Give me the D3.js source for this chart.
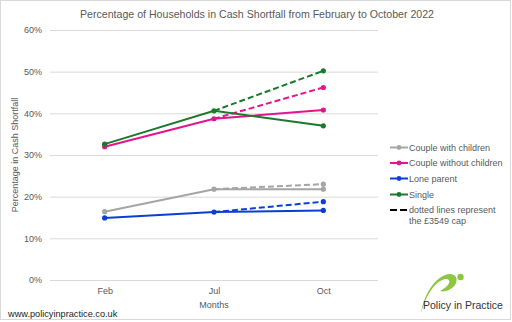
<!DOCTYPE html>
<html><head><meta charset="utf-8">
<script src="https://cdn.jsdelivr.net/npm/d3@7"></script>
<style>body{margin:0;background:#fff}svg{display:block;font-family:"Liberation Sans",Arial,sans-serif}</style>
</head><body><svg id="c" width="512" height="322"></svg>
<script>
const months = ["Feb", "Jul", "Oct"];
const yTicks = [0, 10, 20, 30, 40, 50, 60];
const seriesNames = ["Couple with children", "Couple without children", "Lone parent", "Single"];
const seriesColors = ["#a5a5a5", "#e2148f", "#0a3fd4", "#197a2c"];
// solid lines: Feb, Jul, Oct
const coupleWithChildren = [16.4, 21.8, 21.8];
const coupleWithoutChildren = [32.0, 38.7, 40.8];
const loneParent = [14.9, 16.3, 16.7];
const single = [32.6, 40.6, 37.0];
// dotted lines (the £3549 cap): Jul, Oct
const capMonths = ["Jul", "Oct"];
const coupleWithChildrenCap = [21.8, 23.0];
const coupleWithoutChildrenCap = [38.7, 46.2];
const loneParentCap = [16.3, 18.8];
const singleCap = [40.6, 50.2];
const solidSeries = [coupleWithChildren, coupleWithoutChildren, loneParent, single];
const capSeries = [coupleWithChildrenCap, coupleWithoutChildrenCap, loneParentCap, singleCap];
const title = "Percentage of Households in Cash Shortfall from February to October 2022";
const yTitle = "Percentage in Cash Shortfall";
const xTitle = "Months";
const capLabel = ["dotted lines represent", "the £3549 cap"];

const svg = d3.select("#c");
const txt = "#595959";
svg.append("rect").attr("x",0.5).attr("y",0.5).attr("width",510).attr("height",319)
  .attr("fill","#fff").attr("stroke","#d9d9d9");

const x = d3.scalePoint().domain(months).range([50, 378]).padding(0.5);
const y = d3.scaleLinear().domain([0, 60]).range([280, 30]);

// gridlines
svg.append("g").selectAll("line").data(yTicks).join("line")
  .attr("x1",50).attr("x2",378).attr("y1",d=>y(d)+0.5).attr("y2",d=>y(d)+0.5)
  .attr("stroke","#d9d9d9").attr("stroke-width",1);

// y axis labels
const ya = svg.append("g").attr("transform","translate(42,0)")
  .call(d3.axisLeft(y).tickValues(yTicks).tickFormat(d=>d+"%").tickSize(0).tickPadding(0));
ya.select(".domain").remove();
ya.selectAll("text").attr("fill",txt).attr("font-size",9).attr("font-family","Liberation Sans, Arial, sans-serif");

// x axis labels
const xa = svg.append("g").attr("transform","translate(0,288)")
  .call(d3.axisBottom(x).tickSize(0).tickPadding(0));
xa.select(".domain").remove();
xa.selectAll("text").attr("fill",txt).attr("font-size",9).attr("font-family","Liberation Sans, Arial, sans-serif");

svg.append("text").attr("x",257).attr("y",18).attr("text-anchor","middle")
  .attr("font-size",10.6).attr("fill",txt).text(title);
svg.append("text").attr("transform","translate(18,155) rotate(-90)").attr("text-anchor","middle")
  .attr("font-size",9).attr("fill",txt).text(yTitle);
svg.append("text").attr("x",214).attr("y",308).attr("text-anchor","middle")
  .attr("font-size",9).attr("fill",txt).text(xTitle);

const line = d3.line().x(d=>x(d[0])).y(d=>y(d[1]));

// dashed cap lines
capSeries.forEach((s,i)=>{
  const pts = capMonths.map((m,j)=>[m,s[j]]);
  svg.append("path").attr("d",line(pts)).attr("fill","none")
    .attr("stroke",seriesColors[i]).attr("stroke-width",2).attr("stroke-dasharray","6,3");
  svg.append("circle").attr("cx",x(capMonths[1])).attr("cy",y(s[1])).attr("r",2.6).attr("fill",seriesColors[i]);
});
// solid lines
solidSeries.forEach((s,i)=>{
  const pts = months.map((m,j)=>[m,s[j]]);
  svg.append("path").attr("d",line(pts)).attr("fill","none")
    .attr("stroke",seriesColors[i]).attr("stroke-width",2);
  svg.selectAll(null).data(pts).join("circle").attr("cx",d=>x(d[0])).attr("cy",d=>y(d[1]))
    .attr("r",2.6).attr("fill",seriesColors[i]);
});

// legend
const lg = svg.append("g");
const rowY = [147.5, 163, 178.5, 194.5];
seriesNames.forEach((n,i)=>{
  lg.append("line").attr("x1",390).attr("x2",408).attr("y1",rowY[i]).attr("y2",rowY[i])
    .attr("stroke",seriesColors[i]).attr("stroke-width",2);
  lg.append("circle").attr("cx",399).attr("cy",rowY[i]).attr("r",2.4).attr("fill",seriesColors[i]);
  lg.append("text").attr("x",409).attr("y",rowY[i]+3.2).attr("font-size",9).attr("fill",txt).text(n);
});
lg.append("line").attr("x1",390).attr("x2",408).attr("y1",210).attr("y2",210)
  .attr("stroke","#000").attr("stroke-width",2).attr("stroke-dasharray","7,3");
capLabel.forEach((t,k)=>{
  lg.append("text").attr("x",409).attr("y",213+k*11).attr("font-size",9).attr("fill",txt).text(t);
});

// footer
svg.append("text").attr("x",8).attr("y",317).attr("font-size",9.2).attr("fill","#222")
  .text("www.policyinpractice.co.uk");

// logo
svg.append("path").attr("d","M421,314 C424,292 437,275 450,274 C458,274 459,283 452,288 C448,291 444,292 440,291 C450,286 452,279 446,279 C436,280 426,294 421,314 Z")
  .attr("fill","#8dc63f");
svg.append("circle").attr("cx",460.5).attr("cy",277).attr("r",3.2).attr("fill","#8dc63f");
svg.append("text").attr("x",423).attr("y",309).attr("font-size",10.5).attr("fill","#333")
  .text("Policy in Practice");
</script></body></html>
